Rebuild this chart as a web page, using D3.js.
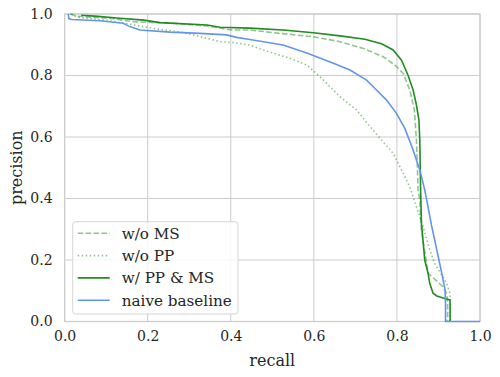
<!DOCTYPE html>
<html>
<head>
<meta charset="utf-8">
<script src="https://cdn.jsdelivr.net/npm/d3@7"></script>
<style>
  body { margin: 0; background: #fff; }
  svg text { font-family: 'DejaVu Serif', serif; fill: #262626; }
</style>
</head>
<body>
<div id="chart"></div>
<script>
// recall / precision points
const woMS = [
  [0.013, 1.0], [0.025, 0.995], [0.029, 0.993], [0.109, 0.986], [0.165, 0.975], [0.261, 0.97],
  [0.343, 0.961], [0.402, 0.948], [0.446, 0.948], [0.518, 0.937], [0.599, 0.926],
  [0.663, 0.91], [0.719, 0.888], [0.767, 0.861], [0.795, 0.834], [0.815, 0.807],
  [0.831, 0.753], [0.842, 0.688], [0.847, 0.59], [0.851, 0.428], [0.855, 0.395],
  [0.859, 0.298], [0.875, 0.157], [0.884, 0.146], [0.911, 0.113], [0.92, 0.09],
  [0.922, 0.06], [0.922, 0.0]
]
const woPP = [
  [0.016, 1.0], [0.03, 0.99], [0.109, 0.978], [0.165, 0.965], [0.222, 0.951], [0.278, 0.942],
  [0.31, 0.932], [0.374, 0.91], [0.406, 0.907], [0.446, 0.899], [0.478, 0.883],
  [0.542, 0.856], [0.583, 0.834], [0.615, 0.796], [0.663, 0.731], [0.703, 0.688],
  [0.735, 0.634], [0.763, 0.59], [0.791, 0.547], [0.811, 0.493], [0.831, 0.438],
  [0.847, 0.373], [0.863, 0.308], [0.879, 0.233], [0.891, 0.189], [0.92, 0.124],
  [0.928, 0.09], [0.928, 0.0]
]
const withPPMS = [
  [0.04, 0.996], [0.073, 0.993], [0.126, 0.987], [0.19, 0.98], [0.23, 0.972], [0.343, 0.964],
  [0.374, 0.957], [0.446, 0.954], [0.526, 0.948], [0.599, 0.939], [0.663, 0.929],
  [0.723, 0.918], [0.763, 0.903], [0.791, 0.883], [0.811, 0.85], [0.827, 0.8],
  [0.839, 0.753], [0.847, 0.704], [0.853, 0.655], [0.855, 0.59], [0.857, 0.43],
  [0.859, 0.32], [0.867, 0.2], [0.875, 0.157], [0.879, 0.124], [0.887, 0.092],
  [0.896, 0.083], [0.915, 0.075], [0.928, 0.07], [0.928, 0.0]
]
const naive = [
  [0.009, 1.0], [0.01, 0.985], [0.017, 0.982], [0.085, 0.978], [0.141, 0.97], [0.157, 0.959],
  [0.181, 0.948], [0.254, 0.941], [0.326, 0.937], [0.39, 0.932], [0.414, 0.924],
  [0.446, 0.917], [0.526, 0.899], [0.583, 0.873], [0.647, 0.84], [0.687, 0.818],
  [0.727, 0.785], [0.751, 0.753], [0.775, 0.72], [0.799, 0.677], [0.819, 0.628],
  [0.839, 0.558], [0.855, 0.493], [0.867, 0.428], [0.884, 0.308], [0.896, 0.233],
  [0.908, 0.157], [0.916, 0.102], [0.917, 0.064], [0.917, 0.0], [1.0, 0.0]
]
const seriesNames = ['w/o MS', 'w/o PP', 'w/ PP & MS', 'naive baseline']
const seriesData = [woMS, woPP, withPPMS, naive]
const ticks = [0, 0.2, 0.4, 0.6, 0.8, 1.0]

const styles = [
  { color: '#228b22', opacity: 0.5, dash: '5.5,2.4' },
  { color: '#228b22', opacity: 0.5, dash: '1.5,2.5' },
  { color: '#228b22', opacity: 1, dash: null },
  { color: '#6495ed', opacity: 1, dash: null }
]

const font = 'DejaVu Serif, serif'
const margin = { top: 14, right: 20, bottom: 55.5, left: 64.6 }
const width = 500 - margin.left - margin.right
const height = 377 - margin.top - margin.bottom

const svg = d3.select('#chart')
  .append('svg')
  .attr('width', 500)
  .attr('height', 377)
  .append('g')
  .attr('transform', `translate(${margin.left},${margin.top})`)

const x = d3.scaleLinear().domain([0, 1]).range([0, width])
const y = d3.scaleLinear().domain([0, 1]).range([height, 0])

// grid
svg.append('g')
  .selectAll('line')
  .data(ticks)
  .enter()
  .append('line')
  .attr('x1', d => x(d)).attr('x2', d => x(d))
  .attr('y1', 0).attr('y2', height)
  .attr('stroke', '#cccccc')
  .attr('stroke-width', 1)
svg.append('g')
  .selectAll('line')
  .data(ticks)
  .enter()
  .append('line')
  .attr('y1', d => y(d)).attr('y2', d => y(d))
  .attr('x1', 0).attr('x2', width)
  .attr('stroke', '#cccccc')
  .attr('stroke-width', 1)

// frame
svg.append('rect')
  .attr('width', width)
  .attr('height', height)
  .attr('fill', 'none')
  .attr('stroke', '#cccccc')
  .attr('stroke-width', 1.25)

const xAxis = svg.append('g')
  .attr('transform', `translate(0,${height})`)
  .call(d3.axisBottom(x).tickValues(ticks).tickSize(0).tickPadding(10).tickFormat(d3.format('.1f')))
xAxis.select('.domain').remove()
xAxis.selectAll('text').attr('font-size', 14).attr('font-family', font).attr('fill', '#262626')

const yAxis = svg.append('g')
  .call(d3.axisLeft(y).tickValues(ticks).tickSize(0).tickPadding(12).tickFormat(d3.format('.1f')))
yAxis.select('.domain').remove()
yAxis.selectAll('text').attr('font-size', 14).attr('font-family', font).attr('fill', '#262626')

svg.append('text')
  .attr('x', width / 2)
  .attr('y', height + 44)
  .attr('text-anchor', 'middle')
  .attr('font-family', font)
  .attr('font-size', 16)
  .text('recall')

svg.append('text')
  .attr('transform', `translate(${-42.5},${height / 2}) rotate(-90)`)
  .attr('text-anchor', 'middle')
  .attr('font-family', font)
  .attr('font-size', 16)
  .text('precision')

const line = d3.line().x(d => x(d[0])).y(d => y(d[1]))

svg.append('g')
  .selectAll('path')
  .data(seriesData)
  .enter()
  .append('path')
  .attr('d', line)
  .attr('fill', 'none')
  .attr('stroke', (d, i) => styles[i].color)
  .attr('stroke-opacity', (d, i) => styles[i].opacity)
  .attr('stroke-dasharray', (d, i) => styles[i].dash)
  .attr('stroke-width', 1.6)

// legend
const legend = svg.append('g')
  .attr('transform', `translate(${72.7 - margin.left},${221.7 - margin.top})`)
legend.append('rect')
  .attr('width', 165.3)
  .attr('height', 92.3)
  .attr('rx', 3)
  .attr('fill', '#fff')
  .attr('fill-opacity', 0.8)
  .attr('stroke', '#d6d6d6')
  .attr('stroke-width', 1)

const items = legend.selectAll('.item')
  .data(seriesNames)
  .enter()
  .append('g')
  .attr('class', 'item')
  .attr('transform', (d, i) => `translate(0,${11.6 + i * 22.3})`)
items.append('line')
  .attr('x1', 5).attr('x2', 37)
  .attr('stroke', (d, i) => styles[i].color)
  .attr('stroke-opacity', (d, i) => styles[i].opacity)
  .attr('stroke-dasharray', (d, i) => styles[i].dash)
  .attr('stroke-width', 1.6)
items.append('text')
  .attr('x', 49)
  .attr('dy', '0.35em')
  .attr('font-family', font)
  .attr('font-size', 15.2)
  .text(d => d)
</script>
</body>
</html>
